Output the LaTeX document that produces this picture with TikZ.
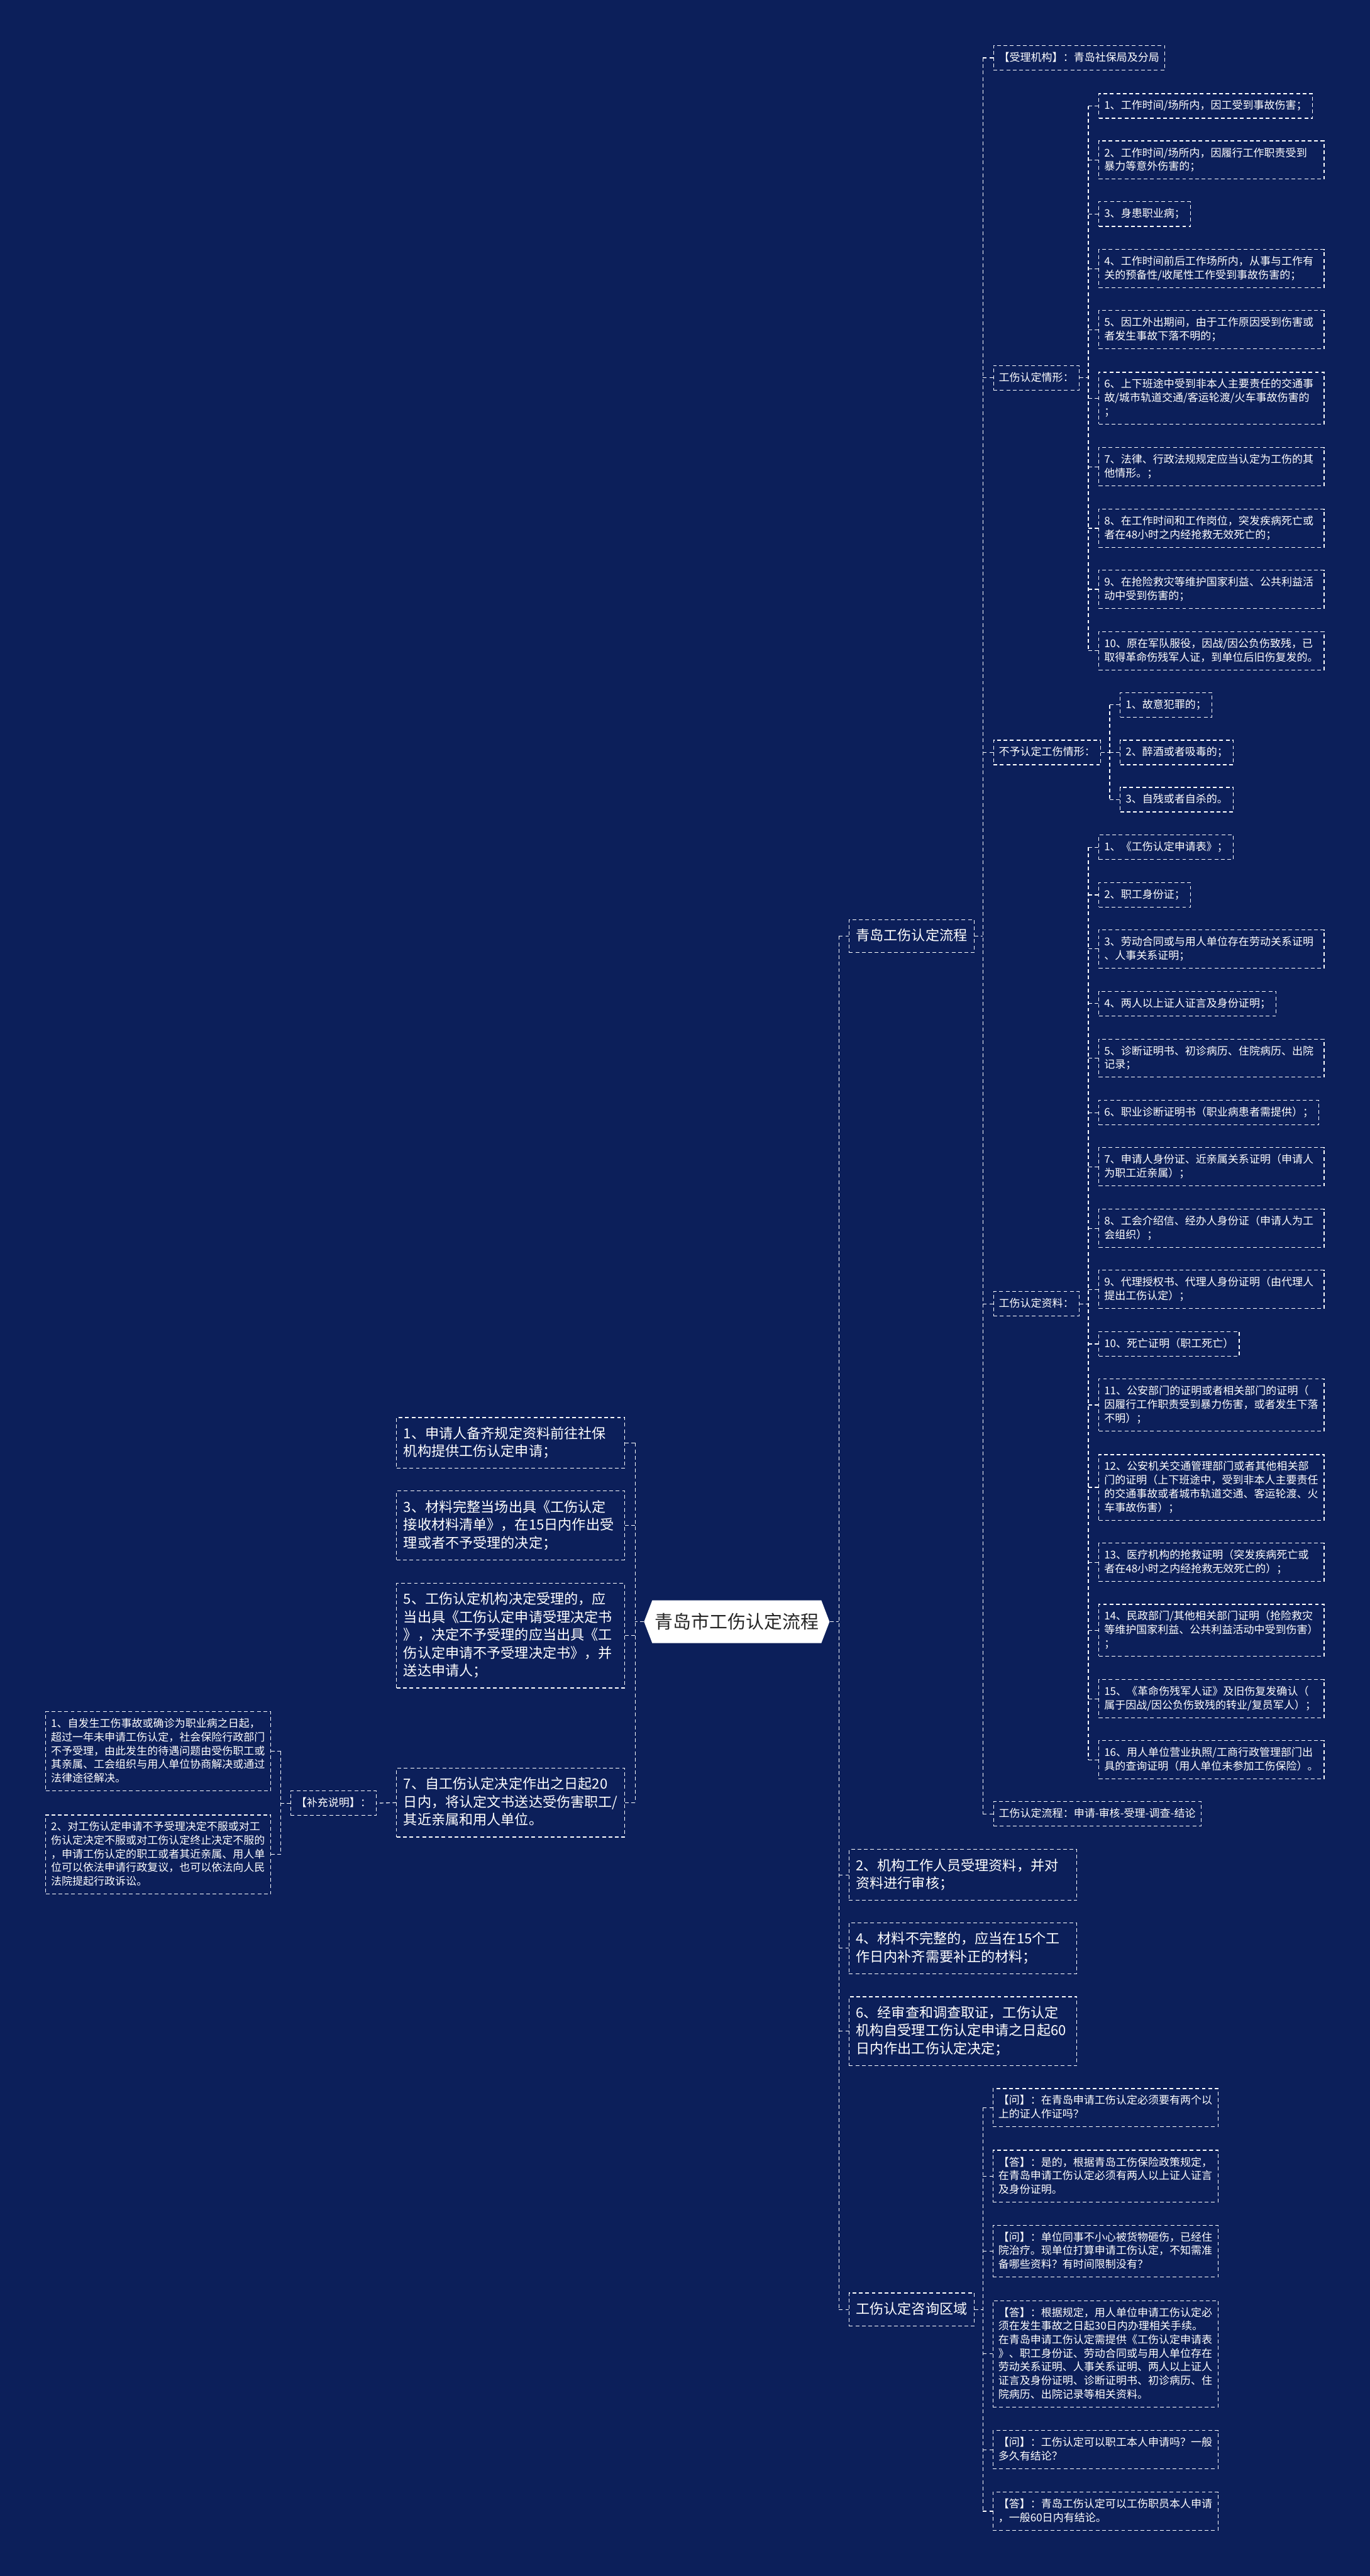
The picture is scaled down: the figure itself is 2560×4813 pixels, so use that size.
\documentclass[tikz,border=0pt]{standalone}
\usepackage{fontspec}
\setmainfont{Noto Sans CJK SC}
\usetikzlibrary{shapes.symbols}
\definecolor{bgnavy}{HTML}{0C1F5A}
\newcommand{\boxstrut}{\rule[-0.25\baselineskip]{0pt}{\baselineskip}}

\begin{document}
\begin{tikzpicture}[x=0.5pt, y=-0.5pt,
    link/.style={white, line width=0.7pt, dash pattern=on 3.5pt off 2.5pt},
    box/.style={draw=white, line width=0.7pt, dash pattern=on 3.5pt off 2.5pt,
      text=white, align=left,
      execute at begin node=\boxstrut, execute at end node=\boxstrut},
    leaf/.style={box, font=\fontsize{10}{12.75}\selectfont, inner xsep=5pt, inner ysep=5.1pt},
    leafw/.style={leaf, text width=200.5pt},
    big/.style={box, font=\fontsize{13}{16.75}\selectfont, inner xsep=6.5pt, inner ysep=7pt},
    bigw/.style={big, text width=200pt},
    rootnode/.style={signal, signal to=east and west, signal pointer angle=138,
      fill=white, text=black!85, font=\fontsize{17}{20}\selectfont,
      minimum height=40pt, inner xsep=2.5pt}]

    % Background (also fixes the page size).
    \fill[bgnavy] (0,0) rectangle (2560,4813);

    % Centre.
    \node[rootnode] (root) at (1377,3030) {青岛市工伤认定流程};

    % Left of the centre.
    \node[bigw, anchor=east] (l1) at (1168,2696)
      {1、申请人备齐规定资料前往社保\\机构提供工伤认定申请；};
    \node[bigw, anchor=east] (l3) at (1168,2850)
      {3、材料完整当场出具《工伤认定\\接收材料清单》，在15日内作出受\\理或者不予受理的决定；};
    \node[bigw, anchor=east] (l5) at (1168,3056)
      {5、工伤认定机构决定受理的，应\\当出具《工伤认定申请受理决定书\\》，决定不予受理的应当出具《工\\伤认定申请不予受理决定书》，并\\送达申请人；};
    \node[bigw, anchor=east] (l7) at (1168,3368)
      {7、自工伤认定决定作出之日起20\\日内，将认定文书送达受伤害职工/\\其近亲属和用人单位。};

    % Supplementary notes.
    \node[leaf, anchor=east] (bc) at (704,3369) {【补充说明】：};
    \node[leafw, anchor=east] (bc1) at (507,3272)
      {1、自发生工伤事故或确诊为职业病之日起，\\超过一年未申请工伤认定，社会保险行政部门\\不予受理，由此发生的待遇问题由受伤职工或\\其亲属、工会组织与用人单位协商解决或通过\\法律途径解决。};
    \node[leafw, anchor=east] (bc2) at (507,3465)
      {2、对工伤认定申请不予受理决定不服或对工\\伤认定决定不服或对工伤认定终止决定不服的\\，申请工伤认定的职工或者其近亲属、用人单\\位可以依法申请行政复议，也可以依法向人民\\法院提起行政诉讼。};

    % Right of the centre.
    \node[big, anchor=west] (qd) at (1586,1749) {青岛工伤认定流程};
    \node[bigw, anchor=west] (r2) at (1586,3503)
      {2、机构工作人员受理资料，并对\\资料进行审核；};
    \node[bigw, anchor=west] (r4) at (1586,3640)
      {4、材料不完整的，应当在15个工\\作日内补齐需要补正的材料；};
    \node[bigw, anchor=west] (r6) at (1586,3795)
      {6、经审查和调查取证，工伤认定\\机构自受理工伤认定申请之日起60\\日内作出工伤认定决定；};
    \node[big, anchor=west] (zx) at (1586,4315) {工伤认定咨询区域};

    % Under the Qingdao process.
    \node[leaf, anchor=west] (sl) at (1856,108) {【受理机构】：青岛社保局及分局};
    \node[leaf, anchor=west] (qx) at (1856,706) {工伤认定情形：};
    \node[leaf, anchor=west] (bq) at (1856,1406) {不予认定工伤情形：};
    \node[leaf, anchor=west] (zl) at (1856,2436) {工伤认定资料：};
    \node[leaf, anchor=west] (lc) at (1856,3389) {工伤认定流程：申请-审核-受理-调查-结论};

    % Cases that count as work injury.
    \node[leaf, anchor=west] (qx1) at (2053,198) {1、工作时间/场所内，因工受到事故伤害；};
    \node[leafw, anchor=west] (qx2) at (2053,299)
      {2、工作时间/场所内，因履行工作职责受到\\暴力等意外伤害的；};
    \node[leaf, anchor=west] (qx3) at (2053,400) {3、身患职业病；};
    \node[leafw, anchor=west] (qx4) at (2053,502)
      {4、工作时间前后工作场所内，从事与工作有\\关的预备性/收尾性工作受到事故伤害的；};
    \node[leafw, anchor=west] (qx5) at (2053,616)
      {5、因工外出期间，由于工作原因受到伤害或\\者发生事故下落不明的；};
    \node[leafw, anchor=west] (qx6) at (2053,744)
      {6、上下班途中受到非本人主要责任的交通事\\故/城市轨道交通/客运轮渡/火车事故伤害的\\；};
    \node[leafw, anchor=west] (qx7) at (2053,872)
      {7、法律、行政法规规定应当认定为工伤的其\\他情形。；};
    \node[leafw, anchor=west] (qx8) at (2053,987)
      {8、在工作时间和工作岗位，突发疾病死亡或\\者在48小时之内经抢救无效死亡的；};
    \node[leafw, anchor=west] (qx9) at (2053,1101)
      {9、在抢险救灾等维护国家利益、公共利益活\\动中受到伤害的；};
    \node[leafw, anchor=west] (qx10) at (2053,1216)
      {10、原在军队服役，因战/因公负伤致残，已\\取得革命伤残军人证，到单位后旧伤复发的。};

    % Cases that do not count.
    \node[leaf, anchor=west] (bq1) at (2093,1317) {1、故意犯罪的；};
    \node[leaf, anchor=west] (bq2) at (2093,1406) {2、醉酒或者吸毒的；};
    \node[leaf, anchor=west] (bq3) at (2093,1494) {3、自残或者自杀的。};

    % Documents.
    \node[leaf, anchor=west] (zl1) at (2053,1583) {1、《工伤认定申请表》；};
    \node[leaf, anchor=west] (zl2) at (2053,1672) {2、职工身份证；};
    \node[leafw, anchor=west] (zl3) at (2053,1773)
      {3、劳动合同或与用人单位存在劳动关系证明\\、人事关系证明；};
    \node[leaf, anchor=west] (zl4) at (2053,1875) {4、两人以上证人证言及身份证明；};
    \node[leafw, anchor=west] (zl5) at (2053,1977)
      {5、诊断证明书、初诊病历、住院病历、出院\\记录；};
    \node[leaf, anchor=west] (zl6) at (2053,2079) {6、职业诊断证明书（职业病患者需提供）；};
    \node[leafw, anchor=west] (zl7) at (2053,2180)
      {7、申请人身份证、近亲属关系证明（申请人\\为职工近亲属）；};
    \node[leafw, anchor=west] (zl8) at (2053,2295)
      {8、工会介绍信、经办人身份证（申请人为工\\会组织）；};
    \node[leafw, anchor=west] (zl9) at (2053,2409)
      {9、代理授权书、代理人身份证明（由代理人\\提出工伤认定）；};
    \node[leaf, anchor=west] (zl10) at (2053,2511) {10、死亡证明（职工死亡）};
    \node[leafw, anchor=west] (zl11) at (2053,2625)
      {11、公安部门的证明或者相关部门的证明（\\因履行工作职责受到暴力伤害，或者发生下落\\不明）；};
    \node[leafw, anchor=west] (zl12) at (2053,2779)
      {12、公安机关交通管理部门或者其他相关部\\门的证明（上下班途中，受到非本人主要责任\\的交通事故或者城市轨道交通、客运轮渡、火\\车事故伤害）；};
    \node[leafw, anchor=west] (zl13) at (2053,2919)
      {13、医疗机构的抢救证明（突发疾病死亡或\\者在48小时之内经抢救无效死亡的）；};
    \node[leafw, anchor=west] (zl14) at (2053,3046)
      {14、民政部门/其他相关部门证明（抢险救灾\\等维护国家利益、公共利益活动中受到伤害）\\；};
    \node[leafw, anchor=west] (zl15) at (2053,3174)
      {15、《革命伤残军人证》及旧伤复发确认（\\属于因战/因公负伤致残的转业/复员军人）；};
    \node[leafw, anchor=west] (zl16) at (2053,3288)
      {16、用人单位营业执照/工商行政管理部门出\\具的查询证明（用人单位未参加工伤保险）。};

    % Questions and answers.
    \node[leafw, anchor=west] (zx1) at (1855,3938)
      {【问】：在青岛申请工伤认定必须要有两个以\\上的证人作证吗？};
    \node[leafw, anchor=west] (zx2) at (1855,4066)
      {【答】：是的，根据青岛工伤保险政策规定，\\在青岛申请工伤认定必须有两人以上证人证言\\及身份证明。};
    \node[leafw, anchor=west] (zx3) at (1855,4206)
      {【问】：单位同事不小心被货物砸伤，已经住\\院治疗。现单位打算申请工伤认定，不知需准\\备哪些资料？有时间限制没有？};
    \node[leafw, anchor=west] (zx4) at (1855,4398)
      {【答】：根据规定，用人单位申请工伤认定必\\须在发生事故之日起30日内办理相关手续。\\在青岛申请工伤认定需提供《工伤认定申请表\\》、职工身份证、劳动合同或与用人单位存在\\劳动关系证明、人事关系证明、两人以上证人\\证言及身份证明、诊断证明书、初诊病历、住\\院病历、出院记录等相关资料。};
    \node[leafw, anchor=west] (zx5) at (1855,4577)
      {【问】：工伤认定可以职工本人申请吗？一般\\多久有结论？};
    \node[leafw, anchor=west] (zx6) at (1855,4692)
      {【答】：青岛工伤认定可以工伤职员本人申请\\，一般60日内有结论。};

    % Trunks of the brackets.
    \coordinate (tl) at (1187,0);
    \coordinate (tr) at (1568,0);
    \coordinate (tb) at (525,0);
    \coordinate (tq) at (1837,0);
    \coordinate (tqx) at (2034,0);
    \coordinate (tbq) at (2074,0);

    % Centre to both sides.
    \draw[link] (root.west) -- (root.west -| tl);
    \draw[link] (l1.east -| tl) -- (l7.east -| tl);
    \foreach \n in {l1,l3,l5,l7} \draw[link] (\n.east -| tl) -- (\n.east);
    \draw[link] (root.east) -- (root.east -| tr);
    \draw[link] (qd.west -| tr) -- (zx.west -| tr);
    \foreach \n in {qd,r2,r4,r6,zx} \draw[link] (\n.west -| tr) -- (\n.west);

    % Supplementary notes.
    \draw[link] (l7.west) -- (bc.east);
    \draw[link] (bc.west) -- (bc.west -| tb);
    \draw[link] (bc1.east -| tb) -- (bc2.east -| tb);
    \foreach \n in {bc1,bc2} \draw[link] (\n.east -| tb) -- (\n.east);

    % Qingdao process.
    \draw[link] (qd.east) -- (qd.east -| tq);
    \draw[link] (sl.west -| tq) -- (lc.west -| tq);
    \foreach \n in {sl,qx,bq,zl,lc} \draw[link] (\n.west -| tq) -- (\n.west);

    \draw[link] (qx.east) -- (qx.east -| tqx);
    \draw[link] (qx1.west -| tqx) -- (qx10.west -| tqx);
    \foreach \n in {1,...,10} \draw[link] (qx\n.west -| tqx) -- (qx\n.west);

    \draw[link] (bq.east) -- (bq.east -| tbq);
    \draw[link] (bq1.west -| tbq) -- (bq3.west -| tbq);
    \foreach \n in {1,2,3} \draw[link] (bq\n.west -| tbq) -- (bq\n.west);

    \draw[link] (zl.east) -- (zl.east -| tqx);
    \draw[link] (zl1.west -| tqx) -- (zl16.west -| tqx);
    \foreach \n in {1,...,16} \draw[link] (zl\n.west -| tqx) -- (zl\n.west);

    % Questions and answers.
    \draw[link] (zx.east) -- (zx.east -| tq);
    \draw[link] (zx1.west -| tq) -- (zx6.west -| tq);
    \foreach \n in {1,...,6} \draw[link] (zx\n.west -| tq) -- (zx\n.west);
  \end{tikzpicture}
\end{document}
